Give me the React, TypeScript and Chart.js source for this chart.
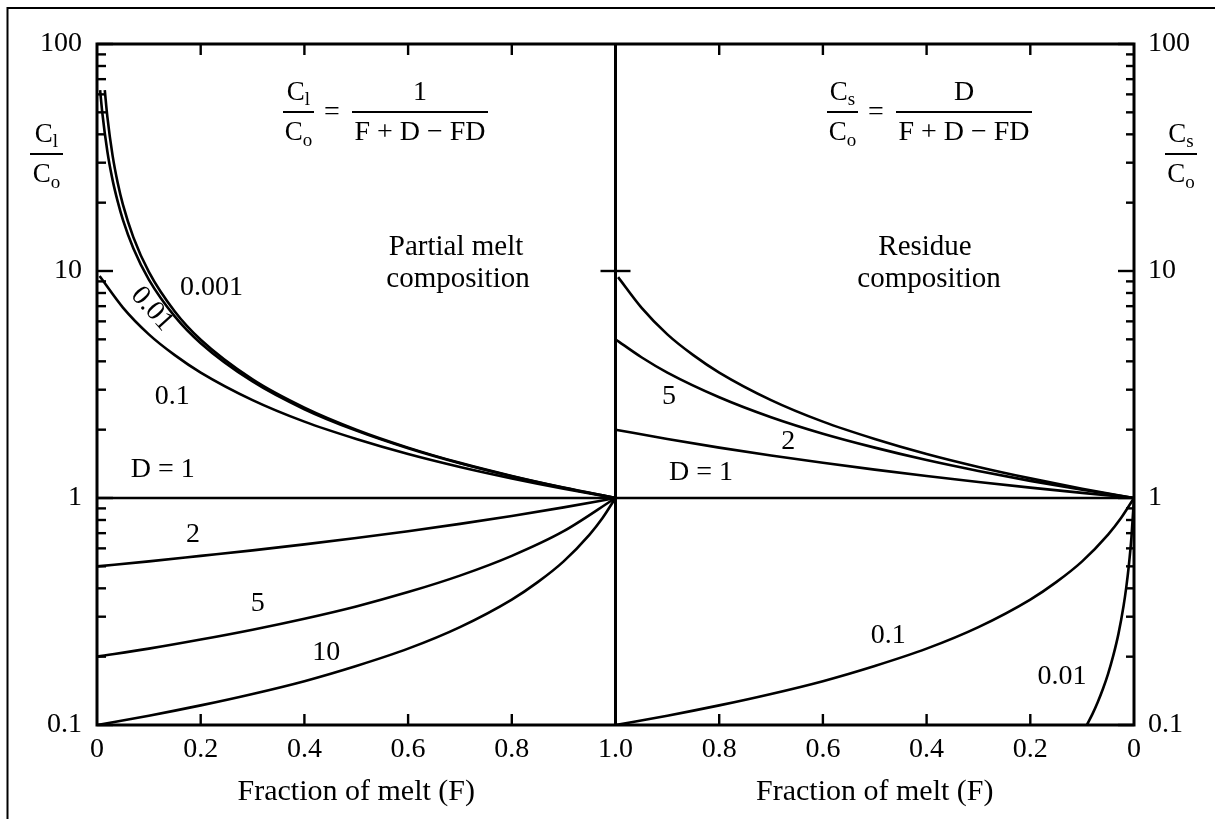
import React, { useEffect, useRef } from 'react';
import { Chart, registerables } from 'chart.js';

Chart.register(...registerables);

const FONT = "'Liberation Serif', 'Times New Roman', Times, serif";

// ---------- Partial melt composition (left panel): F vs C_l/C_o ----------
const MELT_F_D0001 = [0.015, 0.02, 0.03, 0.04, 0.05, 0.07, 0.1, 0.15, 0.2, 0.3, 0.4, 0.5, 0.6, 0.7, 0.8, 0.9, 1.0];
const MELT_D0001 = [62.6, 47.7, 32.3, 24.4, 19.6, 14.1, 9.91, 6.63, 4.98, 3.33, 2.5, 2.0, 1.667, 1.428, 1.25, 1.111, 1.0];

const MELT_F_D001 = [0.006, 0.01, 0.02, 0.03, 0.04, 0.05, 0.07, 0.1, 0.15, 0.2, 0.3, 0.4, 0.5, 0.6, 0.7, 0.8, 0.9, 1.0];
const MELT_D001 = [62.7, 50.3, 33.6, 25.2, 20.2, 16.8, 12.6, 9.17, 6.31, 4.81, 3.26, 2.46, 1.98, 1.656, 1.422, 1.247, 1.11, 1.0];

const MELT_F_D01 = [0.005, 0.05, 0.1, 0.15, 0.2, 0.3, 0.4, 0.5, 0.6, 0.7, 0.8, 0.9, 1.0];
const MELT_D01 = [9.5, 6.9, 5.26, 4.26, 3.57, 2.7, 2.17, 1.82, 1.5625, 1.37, 1.22, 1.099, 1.0];

const MELT_F_D1 = [0, 1];
const MELT_D1 = [1, 1];

const MELT_F_STD = [0, 0.1, 0.2, 0.3, 0.4, 0.5, 0.6, 0.7, 0.8, 0.9, 1.0];
const MELT_D2 = [0.5, 0.526, 0.556, 0.588, 0.625, 0.667, 0.714, 0.769, 0.833, 0.909, 1.0];
const MELT_D5 = [0.2, 0.217, 0.238, 0.263, 0.294, 0.333, 0.385, 0.455, 0.556, 0.714, 1.0];

const MELT_F_D10 = [0, 0.1, 0.2, 0.3, 0.4, 0.5, 0.6, 0.7, 0.8, 0.85, 0.9, 0.95, 0.975, 1.0];
const MELT_D10 = [0.1, 0.1099, 0.122, 0.137, 0.156, 0.182, 0.217, 0.27, 0.357, 0.426, 0.526, 0.69, 0.816, 1.0];

// ---------- Residue composition (right panel): F vs C_s/C_o ----------
const RES_F_D10 = [0.995, 0.95, 0.9, 0.85, 0.8, 0.7, 0.6, 0.5, 0.4, 0.3, 0.2, 0.1, 0];
const RES_D10 = [9.4, 6.9, 5.26, 4.26, 3.57, 2.7, 2.17, 1.82, 1.5625, 1.37, 1.22, 1.099, 1.0];

const RES_F_D5 = [1.0, 0.95, 0.9, 0.8, 0.7, 0.6, 0.5, 0.4, 0.3, 0.2, 0.1, 0];
const RES_D5 = [5.0, 4.17, 3.57, 2.78, 2.27, 1.92, 1.667, 1.47, 1.316, 1.19, 1.087, 1.0];

const RES_F_D2 = [1.0, 0.9, 0.8, 0.7, 0.6, 0.5, 0.4, 0.3, 0.2, 0.1, 0];
const RES_D2 = [2.0, 1.818, 1.667, 1.538, 1.429, 1.333, 1.25, 1.176, 1.111, 1.053, 1.0];

const RES_F_D1 = [1, 0];
const RES_D1 = [1, 1];

const RES_F_D01 = [1.0, 0.9, 0.8, 0.7, 0.6, 0.5, 0.4, 0.3, 0.2, 0.15, 0.1, 0.05, 0.025, 0];
const RES_D01 = [0.1, 0.1099, 0.122, 0.137, 0.156, 0.182, 0.217, 0.27, 0.357, 0.426, 0.526, 0.69, 0.816, 1.0];

const RES_F_D001 = [0.091, 0.08, 0.07, 0.06, 0.05, 0.04, 0.03, 0.02, 0.015, 0.01, 0.005, 0];
const RES_D001 = [0.1, 0.112, 0.126, 0.144, 0.168, 0.202, 0.252, 0.336, 0.403, 0.503, 0.669, 1.0];

// ---------- Axes ----------
const X_TICK_VALUES = [0, 0.2, 0.4, 0.6, 0.8, 1.0, 1.2, 1.4, 1.6, 1.8, 2.0];
const X_TICK_LABELS = ['0', '0.2', '0.4', '0.6', '0.8', '1.0', '0.8', '0.6', '0.4', '0.2', '0'];
const X_MARK_VALUES = [0.2, 0.4, 0.6, 0.8, 1.2, 1.4, 1.6, 1.8];
const Y_TICK_VALUES = [0.1, 1, 10, 100];
const Y_TICK_LABELS = ['0.1', '1', '10', '100'];
const Y_MINOR_VALUES = [
  0.2, 0.3, 0.4, 0.5, 0.6, 0.7, 0.8, 0.9,
  2, 3, 4, 5, 6, 7, 8, 9,
  20, 30, 40, 50, 60, 70, 80, 90,
];

// ---------- Curve labels (panel, F, value) ----------
const CURVE_LABEL_TEXT = ['0.001', '0.01', '0.1', 'D = 1', '2', '5', '10', '5', '2', 'D = 1', '0.1', '0.01'];
const CURVE_LABEL_PANEL = ['L', 'L', 'L', 'L', 'L', 'L', 'L', 'R', 'R', 'R', 'R', 'R'];
const CURVE_LABEL_F = [0.221, 0.106, 0.145, 0.127, 0.185, 0.31, 0.442, 0.897, 0.667, 0.835, 0.474, 0.139];
const CURVE_LABEL_V = [8.41, 6.8, 2.81, 1.33, 0.687, 0.341, 0.2075, 2.81, 1.765, 1.288, 0.2466, 0.1626];
const CURVE_LABEL_ROT = [0, 48, 0, 0, 0, 0, 0, 0, 0, 0, 0, 0];

type Series = { f: number[]; v: number[]; axis: string };
const SERIES: Series[] = [
  { f: MELT_F_D0001, v: MELT_D0001, axis: 'x' },
  { f: MELT_F_D001, v: MELT_D001, axis: 'x' },
  { f: MELT_F_D01, v: MELT_D01, axis: 'x' },
  { f: MELT_F_D1, v: MELT_D1, axis: 'x' },
  { f: MELT_F_STD, v: MELT_D2, axis: 'x' },
  { f: MELT_F_STD, v: MELT_D5, axis: 'x' },
  { f: MELT_F_D10, v: MELT_D10, axis: 'x' },
  { f: RES_F_D10, v: RES_D10, axis: 'xR' },
  { f: RES_F_D5, v: RES_D5, axis: 'xR' },
  { f: RES_F_D2, v: RES_D2, axis: 'xR' },
  { f: RES_F_D1, v: RES_D1, axis: 'xR' },
  { f: RES_F_D01, v: RES_D01, axis: 'xR' },
  { f: RES_F_D001, v: RES_D001, axis: 'xR' },
];

function setFont(ctx: CanvasRenderingContext2D, size: number) {
  ctx.font = `${size}px ${FONT}`;
}

function text(ctx: CanvasRenderingContext2D, s: string, x: number, y: number, size: number, align: CanvasTextAlign = 'center', baseline: CanvasTextBaseline = 'alphabetic') {
  setFont(ctx, size);
  ctx.textAlign = align;
  ctx.textBaseline = baseline;
  ctx.fillText(s, x, y);
}

function line(ctx: CanvasRenderingContext2D, x1: number, y1: number, x2: number, y2: number) {
  ctx.beginPath();
  ctx.moveTo(x1, y1);
  ctx.lineTo(x2, y2);
  ctx.stroke();
}

function cSub(ctx: CanvasRenderingContext2D, sub: string, cx: number, baseline: number, drop: number) {
  const size = 27;
  const subSize = 19;
  setFont(ctx, size);
  const wC = ctx.measureText('C').width;
  setFont(ctx, subSize);
  const wS = ctx.measureText(sub).width;
  const x0 = cx - (wC + wS) / 2;
  text(ctx, 'C', x0, baseline, size, 'left');
  text(ctx, sub, x0 + wC, baseline + drop, subSize, 'left');
}

function cFraction(ctx: CanvasRenderingContext2D, sub: string, cx: number, barY: number, barW: number) {
  ctx.lineWidth = 2;
  line(ctx, cx - barW / 2, barY, cx + barW / 2, barY);
  cSub(ctx, sub, cx, barY - 12, 5);
  cSub(ctx, 'o', cx, barY + 28, 6);
}

function equation(ctx: CanvasRenderingContext2D, x0: number, barY: number, sub: string, num: string) {
  cFraction(ctx, sub, x0 + 15.5, barY, 31);
  text(ctx, '=', x0 + 49, barY + 8, 28);
  const bx1 = x0 + 69;
  const bx2 = x0 + 205;
  ctx.lineWidth = 2;
  line(ctx, bx1, barY, bx2, barY);
  const cx = (bx1 + bx2) / 2;
  text(ctx, num, cx, barY - 12, 28);
  text(ctx, 'F + D \u2212 FD', cx, barY + 28, 28);
}

const decorPlugin = {
  id: 'decor',
  afterDraw(chart: any) {
    const { ctx, chartArea: a, scales } = chart;
    const xs = scales.x;
    const xr = scales.xR;
    const ys = scales.y;
    ctx.save();
    ctx.strokeStyle = '#000';
    ctx.fillStyle = '#000';
    ctx.lineCap = 'butt';

    // outer frame (top and left edges)
    ctx.lineWidth = 2;
    ctx.beginPath();
    ctx.moveTo(7.5, chart.height);
    ctx.lineTo(7.5, 8);
    ctx.lineTo(chart.width, 8);
    ctx.stroke();

    // plot frame and panel divider
    ctx.lineWidth = 3;
    ctx.strokeRect(a.left, a.top, a.right - a.left, a.bottom - a.top);
    const xm = xs.getPixelForValue(1);
    line(ctx, xm, a.top, xm, a.bottom);

    // x tick marks (inward, top and bottom)
    ctx.lineWidth = 2.4;
    for (const v of X_MARK_VALUES) {
      const px = xs.getPixelForValue(v);
      line(ctx, px, a.bottom, px, a.bottom - 11);
      line(ctx, px, a.top, px, a.top + 11);
    }
    // y tick marks (inward, left and right)
    for (const v of Y_MINOR_VALUES) {
      const py = ys.getPixelForValue(v);
      line(ctx, a.left, py, a.left + 9, py);
      line(ctx, a.right, py, a.right - 8, py);
    }
    for (const v of Y_TICK_VALUES) {
      const py = ys.getPixelForValue(v);
      line(ctx, a.left, py, a.left + 16, py);
      line(ctx, a.right, py, a.right - 16, py);
    }
    const p10 = ys.getPixelForValue(10);
    line(ctx, xm - 15, p10, xm + 15, p10);

    // axis titles
    text(ctx, 'Fraction of melt (F)', xs.getPixelForValue(0.5), 800, 30);
    text(ctx, 'Fraction of melt (F)', xs.getPixelForValue(1.5), 800, 30);

    // y-axis titles (fractions)
    cFraction(ctx, 'l', 46.5, 154, 33);
    cFraction(ctx, 's', 1181, 154, 32);

    // equations
    equation(ctx, 283, 112, 'l', '1');
    equation(ctx, 827, 112, 's', 'D');

    // panel captions
    text(ctx, 'Partial melt', 456, 255, 29);
    text(ctx, 'composition', 458, 287, 29);
    text(ctx, 'Residue', 925, 255, 29);
    text(ctx, 'composition', 929, 287, 29);

    // curve labels
    for (let i = 0; i < CURVE_LABEL_TEXT.length; i++) {
      const sx = CURVE_LABEL_PANEL[i] === 'L' ? xs : xr;
      const px = sx.getPixelForValue(CURVE_LABEL_F[i]);
      const py = ys.getPixelForValue(CURVE_LABEL_V[i]);
      ctx.save();
      ctx.translate(px, py);
      ctx.rotate((CURVE_LABEL_ROT[i] * Math.PI) / 180);
      text(ctx, CURVE_LABEL_TEXT[i], 0, 0, 28, 'center', 'middle');
      ctx.restore();
    }
    ctx.restore();
  },
};

const tickFont = { family: FONT, size: 28 };

export default function App() {
  const ref = useRef<HTMLCanvasElement | null>(null);

  useEffect(() => {
    if (!ref.current) return;
    const datasets = SERIES.map((s) => ({
      data: s.f.map((f, i) => ({ x: f, y: s.v[i] })),
      xAxisID: s.axis,
      yAxisID: 'y',
      borderColor: '#000',
      borderWidth: 2.6,
      pointRadius: 0,
      fill: false,
      cubicInterpolationMode: 'monotone' as const,
    }));

    const chart = new Chart(ref.current, {
      type: 'line',
      data: { datasets },
      options: {
        animation: false,
        responsive: false,
        events: [],
        layout: { padding: { top: 44, left: 0, right: 0, bottom: 0 } },
        plugins: { legend: { display: false }, tooltip: { enabled: false } },
        scales: {
          x: {
            type: 'linear',
            position: 'bottom',
            min: 0,
            max: 2,
            grid: { display: false, drawTicks: false },
            border: { display: false },
            ticks: {
              font: tickFont,
              color: '#000',
              padding: 8,
              autoSkip: false,
              maxRotation: 0,
              callback: (_v: any, i: number) => X_TICK_LABELS[i],
            },
            afterBuildTicks: (s: any) => {
              s.ticks = X_TICK_VALUES.map((v) => ({ value: v }));
            },
            afterFit: (s: any) => {
              s.height = 94;
            },
          },
          xR: {
            type: 'linear',
            position: 'bottom',
            min: 0,
            max: 2,
            reverse: true,
            display: false,
          },
          y: {
            type: 'logarithmic',
            position: 'left',
            min: 0.1,
            max: 100,
            grid: { display: false, drawTicks: false },
            border: { display: false },
            ticks: {
              font: tickFont,
              color: '#000',
              padding: 15,
              autoSkip: false,
              callback: (_v: any, i: number) => Y_TICK_LABELS[i],
            },
            afterBuildTicks: (s: any) => {
              s.ticks = Y_TICK_VALUES.map((v) => ({ value: v }));
            },
            afterFit: (s: any) => {
              s.width = 97;
            },
          },
          y2: {
            type: 'logarithmic',
            position: 'right',
            min: 0.1,
            max: 100,
            grid: { display: false, drawTicks: false },
            border: { display: false },
            ticks: {
              font: tickFont,
              color: '#000',
              padding: 14,
              autoSkip: false,
              callback: (_v: any, i: number) => Y_TICK_LABELS[i],
            },
            afterBuildTicks: (s: any) => {
              s.ticks = Y_TICK_VALUES.map((v) => ({ value: v }));
            },
            afterFit: (s: any) => {
              s.width = 81;
            },
          },
        },
      } as any,
      plugins: [decorPlugin],
    });
    return () => chart.destroy();
  }, []);

  return (
    <div style={{ position: 'absolute', left: 0, top: 0, width: 1215, height: 819, background: '#fff' }}>
      <canvas ref={ref} width={1215} height={819} style={{ display: 'block', width: 1215, height: 819 }} />
    </div>
  );
}
